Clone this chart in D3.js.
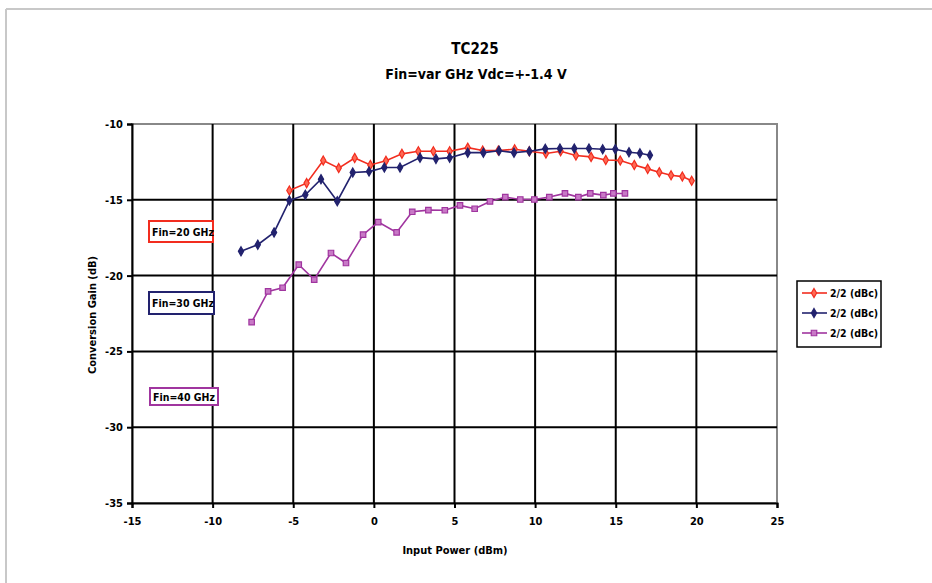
<!DOCTYPE html>
<html>
<head>
<meta charset="utf-8">
<script src="https://cdn.jsdelivr.net/npm/d3@7"></script>
<style>
  body { margin: 0; background: #fff; }
  svg text { font-family: "Liberation Sans Narrow", "DejaVu Sans Condensed", "Arial Narrow", sans-serif; font-weight: bold; fill: #000; }
</style>
</head>
<body>
<div id="chart"></div>
<script>
// series values
const red20 = [
  [-5.24, -14.39], [-4.17, -13.9], [-3.14, -12.41], [-2.18, -12.91], [-1.19, -12.24],
  [-0.22, -12.7], [0.75, -12.43], [1.74, -11.97], [2.76, -11.8], [3.69, -11.8],
  [4.7, -11.8], [5.82, -11.56], [6.75, -11.75], [7.72, -11.75], [8.73, -11.67],
  [9.64, -11.8], [10.67, -11.95], [11.58, -11.8], [12.53, -12.08], [13.47, -12.17],
  [14.38, -12.37], [15.28, -12.41], [16.15, -12.7], [16.98, -12.96], [17.7, -13.18],
  [18.43, -13.38], [19.13, -13.47], [19.71, -13.75]
];
const blue30 = [
  [-8.24, -18.4], [-7.2, -17.96], [-6.19, -17.15], [-5.24, -15.05], [-4.25, -14.67],
  [-3.28, -13.64], [-2.27, -15.09], [-1.31, -13.2], [-0.3, -13.14], [0.65, -12.87],
  [1.62, -12.87], [2.86, -12.22], [3.85, -12.3], [4.7, -12.22], [5.82, -11.89],
  [6.79, -11.89], [7.76, -11.76], [8.69, -11.89], [9.64, -11.8], [10.63, -11.64],
  [11.54, -11.62], [12.43, -11.62], [13.34, -11.62], [14.19, -11.67], [14.97, -11.67],
  [15.82, -11.86], [16.5, -11.93], [17.12, -12.06]
];
const mag40 = [
  [-7.58, -23.07], [-6.56, -21.04], [-5.66, -20.8], [-4.66, -19.28], [-3.7, -20.26],
  [-2.66, -18.51], [-1.73, -19.17], [-0.67, -17.3], [0.27, -16.47], [1.41, -17.15],
  [2.38, -15.79], [3.38, -15.68], [4.4, -15.69], [5.34, -15.37], [6.25, -15.59],
  [7.2, -15.11], [8.15, -14.82], [9.08, -14.98], [9.95, -14.98], [10.88, -14.82],
  [11.85, -14.58], [12.68, -14.82], [13.42, -14.58], [14.23, -14.69], [14.85, -14.58],
  [15.57, -14.58]
];
const xTicks = [-15, -10, -5, 0, 5, 10, 15, 20, 25];
const yTicks = [-10, -15, -20, -25, -30, -35];
const legendLabels = ["2/2 (dBc)", "2/2 (dBc)", "2/2 (dBc)"];
const noteLabels = ["Fin=20 GHz", "Fin=30 GHz", "Fin=40 GHz"];

const width = 932, height = 583;
const margin = { top: 124, right: 155, bottom: 80, left: 132 };
const W = width - margin.left - margin.right;
const H = height - margin.top - margin.bottom;

const svg = d3.select('#chart').append('svg')
  .attr('width', width).attr('height', height);

// outer frame (only top/left visible in the picture)
svg.append('line').attr('x1', 6).attr('x2', width).attr('y1', 9).attr('y2', 9)
  .attr('stroke', '#c8c8c8').attr('stroke-width', 2);
svg.append('line').attr('x1', 6).attr('x2', 6).attr('y1', 9).attr('y2', height)
  .attr('stroke', '#c8c8c8').attr('stroke-width', 2);

const g = svg.append('g').attr('transform', `translate(${margin.left},${margin.top})`);

const x = d3.scaleLinear().domain([-15, 25]).range([0, W]);
const y = d3.scaleLinear().domain([-35, -10]).range([H, 0]);

// plot area border (top/right grey)
g.append('rect').attr('x', 0).attr('y', 0).attr('width', W).attr('height', H)
  .attr('fill', 'none').attr('stroke', '#888').attr('stroke-width', 2);

// grid
g.selectAll('.vgrid').data(xTicks.slice(1, -1)).enter().append('line')
  .attr('x1', d => x(d)).attr('x2', d => x(d)).attr('y1', 0).attr('y2', H)
  .attr('stroke', '#000').attr('stroke-width', 2);
g.selectAll('.hgrid').data(yTicks.slice(1, -1)).enter().append('line')
  .attr('x1', 0).attr('x2', W).attr('y1', d => y(d)).attr('y2', d => y(d))
  .attr('stroke', '#000').attr('stroke-width', 2);

// axes (plain hyphen for negatives, as in the picture)
const fmt = d => String(d);
const xAxis = g.append('g').attr('transform', `translate(0,${H})`)
  .call(d3.axisBottom(x).tickValues(xTicks).tickFormat(fmt).tickSize(5).tickPadding(9));
const yAxis = g.append('g')
  .call(d3.axisLeft(y).tickValues(yTicks).tickFormat(fmt).tickSize(5).tickPadding(4));
[xAxis, yAxis].forEach(a => {
  a.selectAll('path').attr('stroke', '#000').attr('stroke-width', 2);
  a.selectAll('line').attr('stroke', '#000').attr('stroke-width', 2);
  a.selectAll('text').attr('font-size', 11).attr('fill', '#000')
    .style('font-family', '"Liberation Sans Narrow", "DejaVu Sans Condensed", sans-serif')
    .style('font-weight', 'bold');
});

// titles
svg.append('text').attr('x', 475).attr('y', 54).attr('text-anchor', 'middle')
  .attr('font-size', 15).text('TC225');
svg.append('text').attr('x', 476).attr('y', 79).attr('text-anchor', 'middle')
  .attr('font-size', 14).text('Fin=var GHz Vdc=+-1.4 V');
svg.append('text').attr('x', 455).attr('y', 554).attr('text-anchor', 'middle')
  .attr('font-size', 11).text('Input Power (dBm)');
svg.append('text').attr('transform', 'translate(96,315) rotate(-90)')
  .attr('text-anchor', 'middle').attr('font-size', 11).text('Conversion Gain (dB)');

// series
const series = [
  { data: red20, color: '#f22d1f', fill: '#ff6a55', symbol: d3.symbolDiamond, size: 24 },
  { data: blue30, color: '#22226e', fill: '#22226e', symbol: d3.symbolDiamond, size: 24 },
  { data: mag40, color: '#a0359f', fill: '#c879c6', symbol: d3.symbolSquare, size: 30 }
];
const line = d3.line().x(d => x(d[0])).y(d => y(d[1]));

series.forEach(s => {
  g.append('path').datum(s.data).attr('d', line)
    .attr('fill', 'none').attr('stroke', s.color).attr('stroke-width', 1.6);
  g.selectAll(null).data(s.data).enter().append('path')
    .attr('d', d3.symbol().type(s.symbol).size(s.size))
    .attr('transform', d => `translate(${x(d[0])},${y(d[1])})`)
    .attr('fill', s.fill).attr('stroke', s.color).attr('stroke-width', 1.2);
});

// notes
const notes = [
  { t: noteLabels[0], color: '#f22d1f', x: 149, y: 221, w: 64, h: 21 },
  { t: noteLabels[1], color: '#22226e', x: 149, y: 292, w: 65, h: 22 },
  { t: noteLabels[2], color: '#a0359f', x: 150, y: 388, w: 68, h: 17 }
];
notes.forEach(n => {
  svg.append('rect').attr('x', n.x).attr('y', n.y).attr('width', n.w).attr('height', n.h)
    .attr('fill', '#fff').attr('stroke', n.color).attr('stroke-width', 2);
  svg.append('text').attr('x', n.x + 3).attr('y', n.y + n.h / 2 + 4)
    .attr('font-size', 10.5).text(n.t);
});

// legend
const lg = svg.append('g').attr('transform', 'translate(797,281)');
lg.append('rect').attr('width', 84).attr('height', 66)
  .attr('fill', '#fff').attr('stroke', '#000').attr('stroke-width', 1.5);
series.forEach((s, i) => {
  const ly = 12 + i * 20;
  lg.append('line').attr('x1', 5).attr('x2', 30).attr('y1', ly).attr('y2', ly)
    .attr('stroke', s.color).attr('stroke-width', 1.6);
  lg.append('path').attr('d', d3.symbol().type(s.symbol).size(s.size))
    .attr('transform', `translate(17,${ly})`)
    .attr('fill', s.fill).attr('stroke', s.color).attr('stroke-width', 1.2);
  lg.append('text').attr('x', 33).attr('y', ly + 4).attr('font-size', 10.5).text(legendLabels[i]);
});
</script>
</body>
</html>
